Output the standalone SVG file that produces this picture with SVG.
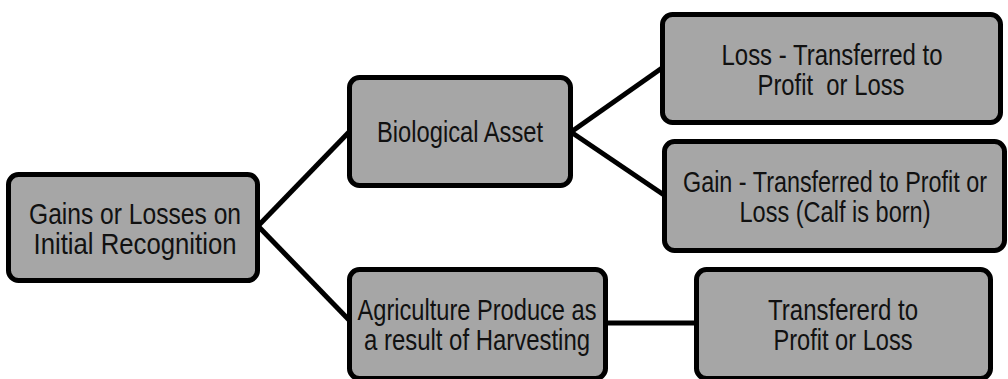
<svg xmlns="http://www.w3.org/2000/svg" width="1008" height="379" viewBox="0 0 1008 379">
<style>
.box{fill:#a6a6a6;stroke:#000;stroke-width:5}
.lbl{font-family:"Liberation Sans Narrow","Liberation Sans",Arial,sans-serif;font-size:29px;fill:#111;text-anchor:middle}
.conn{stroke:#000;stroke-width:5;fill:none}
</style>
<rect width="1008" height="379" fill="#fff"/>
<g id="connectors">
<line class="conn" x1="258" y1="226" x2="349" y2="132"/>
<line class="conn" x1="258" y1="226" x2="349" y2="320"/>
<line class="conn" x1="571" y1="132" x2="662" y2="68"/>
<line class="conn" x1="571" y1="132" x2="664" y2="195"/>
<line class="conn" x1="606" y1="323" x2="696" y2="323"/>
</g>
<g id="node-gains">
<rect class="box" x="8.5" y="174.5" width="249" height="106" rx="10"/>
<text class="lbl" x="135" y="223.5" textLength="212" lengthAdjust="spacingAndGlyphs">Gains or Losses on</text>
<text class="lbl" x="135" y="253.5" textLength="203" lengthAdjust="spacingAndGlyphs">Initial Recognition</text>
</g>
<g id="node-bio">
<rect class="box" x="349.5" y="77.5" width="221" height="108" rx="10"/>
<text class="lbl" x="460" y="142" textLength="166" lengthAdjust="spacingAndGlyphs">Biological Asset</text>
</g>
<g id="node-loss">
<rect class="box" x="662.5" y="14.5" width="338" height="108" rx="10"/>
<text class="lbl" x="832" y="64.5" textLength="221" lengthAdjust="spacingAndGlyphs">Loss - Transferred to</text>
<text class="lbl" x="831" y="94.5" textLength="147" lengthAdjust="spacingAndGlyphs" style="white-space:pre">Profit  or Loss</text>
</g>
<g id="node-gain">
<rect class="box" x="664.5" y="141.5" width="340" height="109" rx="10"/>
<text class="lbl" x="835" y="192" textLength="304" lengthAdjust="spacingAndGlyphs">Gain - Transferred to Profit or</text>
<text class="lbl" x="835" y="222" textLength="191" lengthAdjust="spacingAndGlyphs">Loss (Calf is born)</text>
</g>
<g id="node-agri">
<rect class="box" x="349.5" y="269.5" width="256" height="109" rx="10"/>
<text class="lbl" x="477" y="320" textLength="239" lengthAdjust="spacingAndGlyphs">Agriculture Produce as</text>
<text class="lbl" x="477" y="350" textLength="226" lengthAdjust="spacingAndGlyphs">a result of Harvesting</text>
</g>
<g id="node-transfer">
<rect class="box" x="696.5" y="269.5" width="294" height="109" rx="10"/>
<text class="lbl" x="843" y="320" textLength="150" lengthAdjust="spacingAndGlyphs">Transfererd to</text>
<text class="lbl" x="843" y="350" textLength="139" lengthAdjust="spacingAndGlyphs">Profit or Loss</text>
</g>
</svg>
